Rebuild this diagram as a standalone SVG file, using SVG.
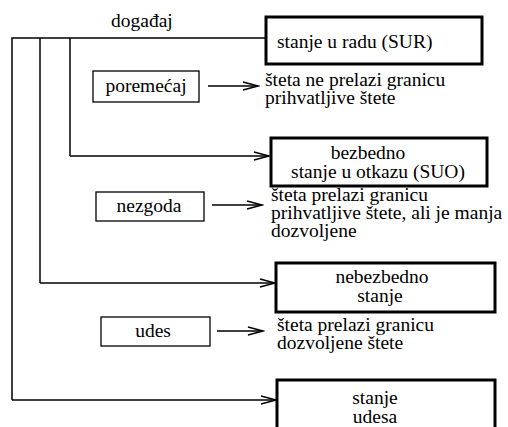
<svg xmlns="http://www.w3.org/2000/svg" width="508" height="427" viewBox="0 0 508 427">
<defs>
<style>
.c{text-anchor:middle}
.big{fill:#fff;stroke:#000;stroke-width:3}
.small{fill:#fff;stroke:#000;stroke-width:1.3}
.ln{fill:none;stroke:#000;stroke-width:1.5}
.ar{fill:none;stroke:#000;stroke-width:1.5;marker-end:url(#ah)}
</style>
<marker id="ah" markerUnits="userSpaceOnUse" markerWidth="18" markerHeight="12" viewBox="-1 -6 17 12" refX="15" refY="0" orient="auto">
<path d="M0,-4 L15,0 L0,4" fill="none" stroke="#000" stroke-width="1.5"/>
</marker>
</defs>
<rect width="508" height="427" fill="#fff"/>
<g id="connectors">
<polyline class="ln" points="266,38 12,38 12,400"/>
<line class="ln" x1="40" y1="38" x2="40" y2="283"/>
<line class="ln" x1="70" y1="38" x2="70" y2="156"/>
<line class="ar" x1="70" y1="156" x2="269" y2="156"/>
<line class="ar" x1="40" y1="283" x2="275" y2="283"/>
<line class="ar" x1="12" y1="400" x2="276" y2="400"/>
<line class="ar" x1="208" y1="86" x2="258" y2="86"/>
<line class="ar" x1="212" y1="205" x2="262" y2="205"/>
<line class="ar" x1="217" y1="331" x2="263" y2="331"/>
</g>
<g font-family="'Liberation Serif', serif" font-size="19.5" fill="#000">
<g id="label-dogadjaj"><text x="111" y="27">događaj</text></g>
<g id="sur">
<rect class="big" x="266" y="17" width="216" height="47"/>
<text x="277" y="48">stanje u radu (SUR)</text>
</g>
<g id="poremecaj">
<rect class="small" x="93" y="71" width="106" height="31"/>
<text class="c" x="146" y="92">poremećaj</text>
</g>
<g id="posledica1">
<text x="265" y="86">šteta ne prelazi granicu</text>
<text x="265" y="104">prihvatljive štete</text>
</g>
<g id="suo">
<rect class="big" x="271" y="138" width="216" height="48"/>
<text class="c" x="368" y="159">bezbedno</text>
<text class="c" x="378" y="178">stanje u otkazu (SUO)</text>
</g>
<g id="nezgoda">
<rect class="small" x="96" y="192" width="108" height="29"/>
<text class="c" x="149" y="212">nezgoda</text>
</g>
<g id="posledica2">
<text x="271" y="201">šteta prelazi granicu</text>
<text x="271" y="219">prihvatljive štete, ali je manja</text>
<text x="271" y="237">dozvoljene</text>
</g>
<g id="nebezbedno">
<rect class="big" x="276" y="263" width="219" height="49"/>
<text class="c" x="382" y="283">nebezbedno</text>
<text class="c" x="380" y="302">stanje</text>
</g>
<g id="udes">
<rect class="small" x="101" y="317" width="109" height="29"/>
<text class="c" x="153" y="337">udes</text>
</g>
<g id="posledica3">
<text x="277" y="331">šteta prelazi granicu</text>
<text x="277" y="349">dozvoljene štete</text>
</g>
<g id="stanje-udesa">
<rect class="big" x="277" y="380" width="218" height="60"/>
<text class="c" x="375" y="404">stanje</text>
<text class="c" x="375" y="423">udesa</text>
</g>
</g>
</svg>
